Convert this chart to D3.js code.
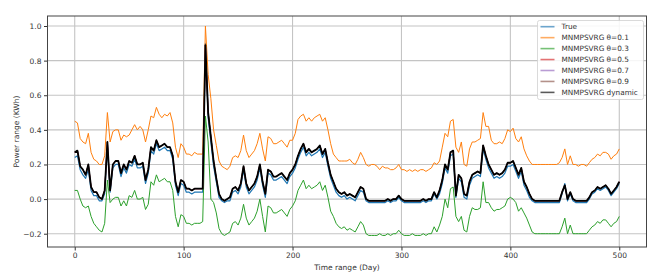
<!DOCTYPE html>
<html>
<head>
<meta charset="utf-8">
<script src="https://cdn.jsdelivr.net/npm/d3@7"></script>
<style>
  body { margin: 0; background: #fff; }
  svg { font-family: "DejaVu Sans", sans-serif; }
</style>
</head>
<body>
<script>
const w = 665;
const h = 278;
const margin = { top: 16, right: 18.5, bottom: 31, left: 47.5 };

// days on the x axis, one reading every 2.5 days
const days = d3.range(0, 500.1, 2.5);
const xTicks = [0, 100, 200, 300, 400, 500];
const yTicks = [-0.2, 0, 0.2, 0.4, 0.6, 0.8, 1.0];

const trueValues = [
  0.24, 0.25, 0.17, 0.14, 0.12, 0.17, 0.05, 0.02, 0.02, -0.01, -0.01, 0.03, 0.30, 0.04, 0.18, 0.20, 0.20, 0.13, 0.18, 0.15,
  0.20, 0.19, 0.23, 0.18, 0.18, 0.19, 0.09, 0.15, 0.28, 0.26, 0.32, 0.28, 0.29, 0.30, 0.28, 0.28, 0.23, 0.08, 0.02, 0.09,
  0.08, 0.04, 0.04, 0.03, 0.04, 0.04, 0.04, 0.04, 0.90, 0.47, 0.33, 0.19, 0.10, 0.01, -0.01, -0.02, -0.01, -0.01, 0.04, 0.05,
  0.03, 0.07, 0.17, 0.07, 0.03, 0.05, 0.07, 0.11, 0.18, 0.08, 0.01, 0.15, 0.14, 0.11, 0.11, 0.12, 0.13, 0.11, 0.09, 0.13,
  0.15, 0.18, 0.23, 0.27, 0.30, 0.25, 0.27, 0.25, 0.26, 0.27, 0.29, 0.24, 0.27, 0.19, 0.12, 0.08, 0.04, 0.02, 0.01, 0.02,
  0.00, 0.01, 0.00, -0.01, 0.02, 0.05, 0.04, -0.01, -0.02, -0.02, -0.02, -0.02, -0.02, -0.02, -0.02, -0.01, -0.02, -0.01, -0.01, 0.01,
  -0.01, -0.02, -0.02, -0.02, -0.02, -0.02, -0.02, -0.02, -0.01, -0.02, -0.01, -0.01, 0.03, 0.00, 0.03, 0.09, 0.18, 0.15, 0.25, 0.26,
  0.01, 0.12, 0.10, 0.01, 0.00, 0.08, 0.12, 0.13, 0.14, 0.13, 0.29, 0.23, 0.18, 0.15, 0.12, 0.13, 0.12, 0.13, 0.15, 0.19,
  0.19, 0.20, 0.16, 0.12, 0.16, 0.08, 0.05, 0.01, -0.01, -0.02, -0.02, -0.02, -0.02, -0.02, -0.02, -0.02, -0.02, -0.02, -0.02, 0.03,
  0.09, -0.01, 0.03, -0.01, -0.02, -0.02, -0.02, -0.02, -0.02, 0.00, 0.03, 0.04, 0.06, 0.05, 0.06, 0.07, 0.05, 0.02, 0.04, 0.06,
  0.09
];

const theta01 = [
  0.45, 0.44, 0.35, 0.33, 0.32, 0.38, 0.27, 0.23, 0.22, 0.20, 0.20, 0.25, 0.50, 0.33, 0.39, 0.40, 0.40, 0.34, 0.37, 0.36,
  0.37, 0.40, 0.43, 0.40, 0.42, 0.40, 0.33, 0.40, 0.48, 0.47, 0.53, 0.49, 0.47, 0.49, 0.48, 0.50, 0.44, 0.30, 0.24, 0.32,
  0.30, 0.26, 0.26, 0.25, 0.27, 0.26, 0.26, 0.26, 1.00, 0.72, 0.58, 0.40, 0.31, 0.22, 0.19, 0.18, 0.17, 0.19, 0.24, 0.25,
  0.24, 0.28, 0.37, 0.28, 0.24, 0.26, 0.28, 0.32, 0.38, 0.29, 0.22, 0.36, 0.35, 0.32, 0.32, 0.33, 0.34, 0.32, 0.30, 0.34,
  0.34, 0.38, 0.46, 0.48, 0.49, 0.45, 0.47, 0.45, 0.47, 0.48, 0.49, 0.45, 0.47, 0.40, 0.32, 0.26, 0.24, 0.22, 0.22, 0.22,
  0.22, 0.23, 0.21, 0.20, 0.23, 0.27, 0.24, 0.20, 0.19, 0.20, 0.20, 0.19, 0.17, 0.19, 0.18, 0.18, 0.17, 0.17, 0.18, 0.20,
  0.17, 0.17, 0.16, 0.17, 0.16, 0.17, 0.16, 0.17, 0.17, 0.16, 0.17, 0.18, 0.21, 0.20, 0.22, 0.30, 0.38, 0.36, 0.45, 0.46,
  0.30, 0.27, 0.33, 0.20, 0.19, 0.29, 0.33, 0.33, 0.34, 0.35, 0.50, 0.42, 0.42, 0.34, 0.32, 0.32, 0.33, 0.32, 0.35, 0.40,
  0.39, 0.41, 0.35, 0.33, 0.36, 0.29, 0.25, 0.22, 0.20, 0.20, 0.20, 0.20, 0.20, 0.20, 0.20, 0.20, 0.20, 0.20, 0.21, 0.24,
  0.29, 0.20, 0.25, 0.20, 0.20, 0.19, 0.20, 0.20, 0.19, 0.21, 0.23, 0.24, 0.26, 0.25, 0.27, 0.27, 0.26, 0.23, 0.25, 0.26,
  0.29
];

const theta03 = [
  0.05, 0.05, 0.00, -0.04, -0.05, -0.04, -0.10, -0.14, -0.16, -0.18, -0.19, -0.14, 0.11, -0.02, 0.00, 0.01, 0.01, -0.04, -0.01, -0.04,
  0.02, 0.01, 0.05, 0.00, 0.00, 0.01, -0.06, -0.03, 0.10, 0.08, 0.14, 0.10, 0.11, 0.12, 0.10, 0.10, 0.05, -0.10, -0.16, -0.09,
  -0.10, -0.14, -0.14, -0.15, -0.14, -0.14, -0.14, -0.13, 0.48, 0.33, 0.00, -0.02, -0.08, -0.17, -0.20, -0.21, -0.20, -0.19, -0.14, -0.13,
  -0.15, -0.11, -0.03, -0.11, -0.15, -0.13, -0.11, -0.07, 0.00, -0.10, -0.19, -0.04, -0.05, -0.08, -0.08, -0.07, -0.06, -0.08, -0.10, -0.06,
  -0.04, -0.01, 0.05, 0.08, 0.11, 0.06, 0.08, 0.06, 0.07, 0.08, 0.10, 0.05, 0.08, 0.01, -0.07, -0.10, -0.14, -0.16, -0.17, -0.16,
  -0.18, -0.17, -0.18, -0.19, -0.16, -0.13, -0.15, -0.20, -0.21, -0.21, -0.21, -0.21, -0.20, -0.21, -0.21, -0.20, -0.21, -0.20, -0.20, -0.18,
  -0.20, -0.21, -0.21, -0.21, -0.20, -0.21, -0.21, -0.21, -0.20, -0.21, -0.20, -0.20, -0.16, -0.19, -0.15, -0.10, 0.00, -0.05, 0.06, 0.07,
  -0.10, -0.13, -0.10, -0.18, -0.19, -0.10, -0.05, -0.06, -0.06, -0.05, 0.10, -0.02, -0.02, -0.05, -0.07, -0.06, -0.06, -0.05, -0.04, 0.00,
  0.01, 0.00, -0.02, -0.07, -0.05, -0.08, -0.11, -0.15, -0.19, -0.20, -0.20, -0.20, -0.20, -0.20, -0.20, -0.20, -0.20, -0.20, -0.20, -0.16,
  -0.11, -0.20, -0.15, -0.20, -0.20, -0.20, -0.20, -0.20, -0.20, -0.18, -0.16, -0.15, -0.13, -0.14, -0.12, -0.12, -0.14, -0.16, -0.14, -0.13,
  -0.10
];

const dynamic = [
  0.27, 0.28, 0.19, 0.17, 0.14, 0.20, 0.07, 0.04, 0.04, 0.01, 0.00, 0.05, 0.33, 0.05, 0.20, 0.22, 0.22, 0.15, 0.20, 0.17,
  0.22, 0.21, 0.25, 0.20, 0.20, 0.21, 0.11, 0.17, 0.30, 0.28, 0.34, 0.30, 0.31, 0.32, 0.30, 0.30, 0.25, 0.10, 0.04, 0.11,
  0.10, 0.06, 0.06, 0.05, 0.06, 0.06, 0.06, 0.06, 0.89, 0.50, 0.36, 0.22, 0.12, 0.03, 0.00, -0.01, 0.00, 0.01, 0.06, 0.07,
  0.05, 0.09, 0.19, 0.09, 0.05, 0.07, 0.09, 0.13, 0.20, 0.10, 0.03, 0.17, 0.16, 0.13, 0.13, 0.14, 0.15, 0.13, 0.11, 0.15,
  0.17, 0.20, 0.25, 0.29, 0.32, 0.27, 0.29, 0.27, 0.28, 0.29, 0.31, 0.26, 0.29, 0.21, 0.14, 0.10, 0.06, 0.04, 0.03, 0.04,
  0.02, 0.03, 0.02, 0.01, 0.04, 0.07, 0.06, 0.00, -0.01, -0.01, -0.01, -0.01, -0.01, -0.01, -0.01, 0.00, -0.01, 0.00, 0.00, 0.02,
  0.00, -0.01, -0.01, -0.01, -0.01, -0.01, -0.01, -0.01, 0.00, -0.01, 0.00, 0.00, 0.04, 0.01, 0.05, 0.11, 0.20, 0.17, 0.27, 0.28,
  0.02, 0.14, 0.12, 0.03, 0.02, 0.10, 0.14, 0.15, 0.16, 0.15, 0.31, 0.25, 0.20, 0.17, 0.14, 0.15, 0.14, 0.15, 0.17, 0.21,
  0.21, 0.22, 0.18, 0.14, 0.18, 0.10, 0.07, 0.03, 0.00, -0.01, -0.01, -0.01, -0.01, -0.01, -0.01, -0.01, -0.01, -0.01, -0.01, 0.04,
  0.08, 0.00, 0.04, 0.00, -0.01, -0.01, -0.01, -0.01, -0.01, 0.01, 0.04, 0.05, 0.07, 0.06, 0.07, 0.08, 0.06, 0.03, 0.05, 0.07,
  0.10
];

// theta 0.5 / 0.7 / 0.9 sit right under the dynamic curve in the picture
const theta05 = dynamic;
const theta07 = dynamic;
const theta09 = dynamic;

const seriesNames = ["True", "MNMPSVRG θ=0.1", "MNMPSVRG θ=0.3", "MNMPSVRG θ=0.5",
                     "MNMPSVRG θ=0.7", "MNMPSVRG θ=0.9", "MNMPSVRG dynamic"];
const seriesValues = [trueValues, theta01, theta03, theta05, theta07, theta09, dynamic];
const colors = ["#1f77b4", "#ff7f0e", "#2ca02c", "#d62728", "#9467bd", "#8c564b", "#000000"];
const widths = [1.2, 1, 1, 1, 1, 1, 1.8];

const svg = d3.select("body")
  .append("svg")
  .attr("width", w)
  .attr("height", h);

const xScale = d3.scaleLinear()
  .domain([-25, 525])
  .range([margin.left, w - margin.right]);

const yScale = d3.scaleLinear()
  .domain([-0.2768, 1.0578])
  .range([h - margin.bottom, margin.top]);

// grid
svg.append("g")
  .selectAll("line")
  .data(xTicks)
  .enter()
  .append("line")
  .attr("x1", d => xScale(d))
  .attr("x2", d => xScale(d))
  .attr("y1", margin.top)
  .attr("y2", h - margin.bottom)
  .attr("stroke", "#c4c4c4")
  .attr("stroke-width", 1.1);

svg.append("g")
  .selectAll("line")
  .data(yTicks)
  .enter()
  .append("line")
  .attr("x1", margin.left)
  .attr("x2", w - margin.right)
  .attr("y1", d => yScale(d))
  .attr("y2", d => yScale(d))
  .attr("stroke", "#c4c4c4")
  .attr("stroke-width", 1.1);

// lines
const plot = svg.append("g");
seriesValues.forEach((vals, i) => {
  const line = d3.line()
    .x((d, j) => xScale(days[j]))
    .y(d => yScale(d));
  plot.append("path")
    .datum(vals)
    .attr("fill", "none")
    .attr("stroke", colors[i])
    .attr("stroke-width", widths[i])
    .attr("stroke-linejoin", "round")
    .attr("d", line);
});

// axes
const xAxis = d3.axisBottom(xScale)
  .tickValues(xTicks)
  .tickSize(3.5)
  .tickPadding(2.5);
const yAxis = d3.axisLeft(yScale)
  .tickValues(yTicks)
  .tickFormat(d3.format(".1f"))
  .tickSize(3.5)
  .tickPadding(2.5);

const gx = svg.append("g")
  .attr("transform", `translate(0, ${h - margin.bottom})`)
  .call(xAxis);
const gy = svg.append("g")
  .attr("transform", `translate(${margin.left}, 0)`)
  .call(yAxis);

[gx, gy].forEach(g => {
  g.select(".domain").remove();
  g.selectAll(".tick line").attr("stroke", "#333");
  g.selectAll(".tick text")
    .attr("fill", "#333")
    .style("font-size", "7.5px")
    .style("font-family", "DejaVu Sans");
});

// frame
svg.append("rect")
  .attr("x", margin.left)
  .attr("y", margin.top)
  .attr("width", w - margin.left - margin.right)
  .attr("height", h - margin.top - margin.bottom)
  .attr("fill", "none")
  .attr("stroke", "#444")
  .attr("stroke-width", 1);

// axis titles
svg.append("text")
  .text("Time range (Day)")
  .attr("x", (margin.left + w - margin.right) / 2)
  .attr("y", 270)
  .attr("text-anchor", "middle")
  .attr("fill", "#333")
  .style("font-size", "7.5px");

svg.append("text")
  .text("Power range (KWh)")
  .attr("transform", `translate(19, ${(margin.top + h - margin.bottom) / 2}) rotate(-90)`)
  .attr("text-anchor", "middle")
  .attr("fill", "#333")
  .style("font-size", "7.5px");

// legend
const legend = svg.append("g")
  .attr("transform", "translate(537.5, 20.5)");

legend.append("rect")
  .attr("width", 106)
  .attr("height", 79)
  .attr("rx", 2)
  .attr("fill", "#fff")
  .attr("fill-opacity", 0.85)
  .attr("stroke", "#d0d0d0")
  .attr("stroke-width", 0.8);

const item = legend.selectAll(".legend-item")
  .data(seriesNames)
  .enter()
  .append("g")
  .attr("class", "legend-item")
  .attr("transform", (d, i) => `translate(0, ${6.2 + i * 10.95})`);

item.append("line")
  .attr("x1", 3)
  .attr("x2", 17)
  .attr("stroke", (d, i) => colors[i])
  .attr("stroke-opacity", 0.65)
  .attr("stroke-width", 1.6);

item.append("text")
  .attr("x", 24)
  .attr("dy", "0.35em")
  .attr("fill", "#333")
  .style("font-size", "7.3px")
  .text(d => d);
</script>
</body>
</html>
